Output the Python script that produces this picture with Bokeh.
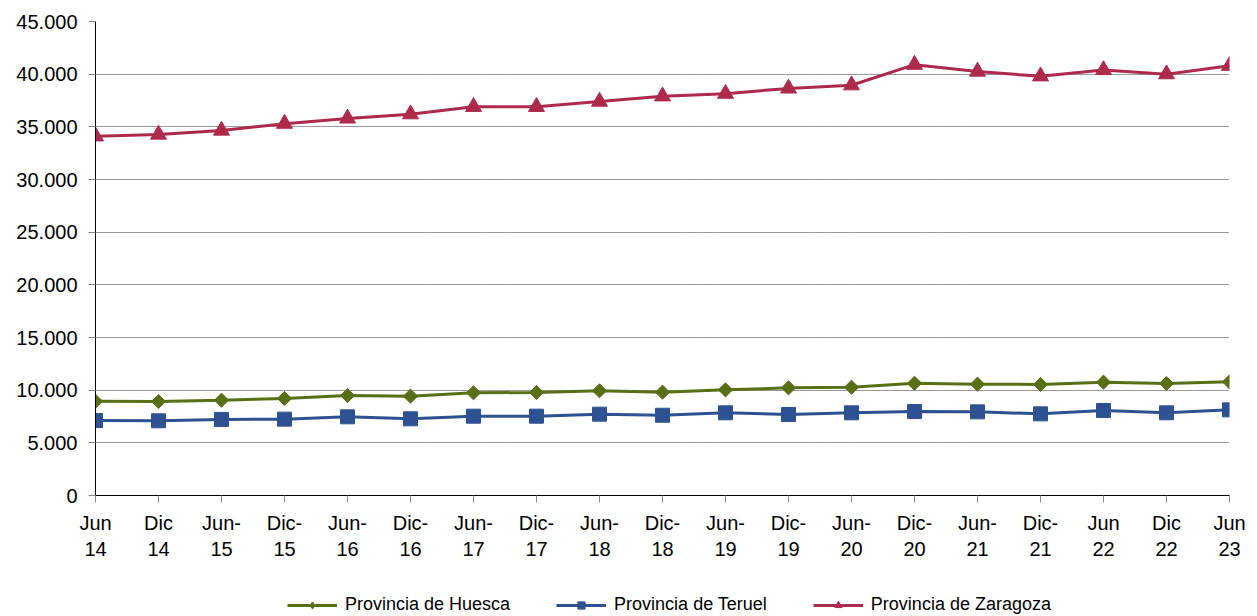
import math
from bokeh.plotting import figure
from bokeh.layouts import column
from bokeh.models import FixedTicker, Range1d, Legend, LegendItem
from bokeh.embed import file_html
from bokeh.resources import INLINE

periods = ["Jun\n14", "Dic\n14", "Jun-\n15", "Dic-\n15", "Jun-\n16", "Dic-\n16",
           "Jun-\n17", "Dic-\n17", "Jun-\n18", "Dic-\n18", "Jun-\n19", "Dic-\n19",
           "Jun-\n20", "Dic-\n20", "Jun-\n21", "Dic-\n21", "Jun\n22", "Dic\n22", "Jun\n23"]
huesca = [8950, 8920, 9050, 9210, 9490, 9430, 9750, 9780, 9940, 9810, 10030, 10220,
          10280, 10660, 10570, 10540, 10760, 10630, 10790]
teruel = [7120, 7090, 7220, 7250, 7470, 7280, 7530, 7530, 7720, 7620, 7850, 7690,
          7850, 7970, 7940, 7750, 8070, 7850, 8130]
zaragoza = [34100, 34270, 34650, 35300, 35800, 36200, 36900, 36900, 37400, 37900,
            38150, 38650, 38950, 40900, 40250, 39800, 40400, 40000, 40800]
y_ticks = [0, 5000, 10000, 15000, 20000, 25000, 30000, 35000, 40000, 45000]
y_labels = ["0", "5.000", "10.000", "15.000", "20.000", "25.000", "30.000",
            "35.000", "40.000", "45.000"]
series_names = ["Provincia de Huesca", "Provincia de Teruel", "Provincia de Zaragoza"]

FONT = "Liberation Sans"
C_HU = "#5A6E16"
C_TE = "#2E5291"
C_ZA = "#AE2A4D"

xs = list(range(len(periods)))

W, H1, H2 = 1255, 570, 46
p = figure(width=W, height=H1, output_backend="svg", toolbar_location=None,
           x_range=Range1d(0, len(periods) - 1), y_range=Range1d(0, 45000),
           min_border_left=95, min_border_right=W - 1229, min_border_top=21,
           min_border_bottom=H1 - 495)
p.outline_line_color = None
p.background_fill_color = "white"
p.border_fill_color = "white"

p.xaxis.ticker = FixedTicker(ticks=xs)
p.xaxis.major_label_overrides = {i: lab for i, lab in enumerate(periods)}
p.yaxis.ticker = FixedTicker(ticks=y_ticks)
p.yaxis.major_label_overrides = {t: l for t, l in zip(y_ticks, y_labels)}
for ax in (p.xaxis, p.yaxis):
    ax.axis_line_color = "black"
    ax.axis_line_width = 1
    ax.major_tick_line_color = "#888888"
    ax.major_tick_in = 0
    ax.major_tick_out = 7
    ax.minor_tick_line_color = None
    ax.major_label_text_font = FONT
    ax.major_label_text_font_size = "20px"
    ax.major_label_text_color = "black"
p.xaxis.major_label_standoff = 9
p.yaxis.major_label_standoff = 11

p.xgrid.grid_line_color = None
p.ygrid.grid_line_color = "#333333"
p.ygrid.grid_line_dash = "1 1"
p.ygrid.grid_line_width = 1

lw = 3
p.line(xs, huesca, line_color=C_HU, line_width=lw)
p.scatter(xs, huesca, marker="square", angle=math.pi / 4, size=10,
          fill_color=C_HU, line_color=C_HU)
p.line(xs, teruel, line_color=C_TE, line_width=lw)
p.scatter(xs, teruel, marker="square", size=14, fill_color=C_TE, line_color=C_TE)
p.line(xs, zaragoza, line_color=C_ZA, line_width=lw)
p.scatter(xs, zaragoza, marker="triangle", size=16, fill_color=C_ZA, line_color=C_ZA)

# legend strip (proxy renderers sit outside the visible range)
q = figure(width=W, height=H2, output_backend="svg", toolbar_location=None,
           x_range=Range1d(0, 1), y_range=Range1d(0, 1),
           min_border_left=0, min_border_right=0, min_border_top=0, min_border_bottom=0)
q.axis.visible = False
q.grid.visible = False
q.outline_line_color = None
q.border_fill_color = "white"
q.background_fill_color = "white"

off_x = [-10, -9]
off_y = [-10, -10]
ll1 = q.line(off_x, off_y, line_color=C_HU, line_width=lw)
lm1 = q.scatter(off_x, off_y, marker="diamond", size=13,
                fill_color=C_HU, line_color=C_HU)
ll2 = q.line(off_x, off_y, line_color=C_TE, line_width=lw)
lm2 = q.scatter(off_x, off_y, marker="square", size=10, fill_color=C_TE, line_color=C_TE)
ll3 = q.line(off_x, off_y, line_color=C_ZA, line_width=lw)
lm3 = q.scatter(off_x, off_y, marker="triangle", size=12, fill_color=C_ZA, line_color=C_ZA)

legend = Legend(items=[
    LegendItem(label=series_names[0], renderers=[ll1, lm1]),
    LegendItem(label=series_names[1], renderers=[ll2, lm2]),
    LegendItem(label=series_names[2], renderers=[ll3, lm3]),
], orientation="horizontal", location=(192, 1))
legend.glyph_width = 50
legend.glyph_height = 18
legend.label_standoff = 8
legend.spacing = 46
legend.padding = 0
legend.margin = 0
legend.border_line_color = None
legend.background_fill_alpha = 0
legend.label_text_font = FONT
legend.label_text_font_size = "18px"
legend.label_text_color = "black"
q.add_layout(legend, "center")

layout = column(p, q, spacing=0)
open("out.html", "w").write(file_html(layout, INLINE))
